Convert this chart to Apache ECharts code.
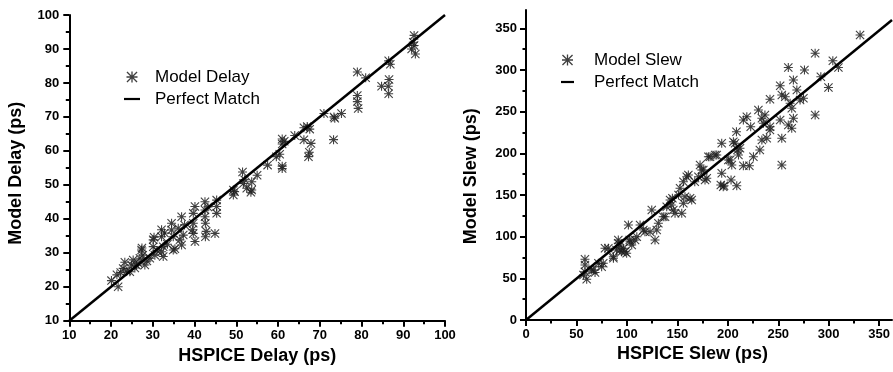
<!DOCTYPE html>
<html>
<head>
<meta charset="utf-8">
<script src="https://cdn.jsdelivr.net/npm/echarts@6/dist/echarts.min.js"></script>
<style>
html,body{margin:0;padding:0;background:#fff;}
#chart{width:893px;height:372px;}
</style>
</head>
<body>
<div id="chart"></div>
<script>
// ---- Left panel: delay ----
const delayHspice = [20.1,21.7,21.4,22.3,22.9,23.3,23.8,24.5,24.9,25.3,25.7,26.1,26.5,26.9,27.3,27.6,27.4,28.1,28.6,29.3,30.1,30.1,30.5,30.3,31.0,32.1,32.1,32.5,32.1,32.5,32.8,33.5,34.5,34.5,34.9,34.9,35.3,36.1,36.5,36.9,36.9,37.3,37.6,39.7,39.7,39.7,40.1,40.1,39.5,42.5,42.5,42.5,42.6,42.6,42.8,43.2,44.9,45.3,45.3,45.3,49.3,49.3,49.6,51.7,51.5,52.5,53.7,53.7,53.5,52.0,55.0,57.5,59.6,60.4,61.0,61.0,61.0,61.0,61.5,64.0,66.2,66.2,67.0,67.6,67.5,67.3,67.9,71.0,73.4,73.6,73.3,75.2,79.0,79.0,79.0,79.2,81.0,84.8,86.5,86.6,86.4,86.5,86.9,92.6,92.4,92.0,92.9,92.6];
const delayModel  = [21.8,20.0,23.5,24.2,25.4,27.2,24.6,24.4,26.4,27.9,25.5,26.3,26.9,28.4,30.8,29.3,31.4,26.4,27.6,28.4,33.8,31.8,29.3,34.6,30.6,36.8,34.7,31.8,30.3,28.9,35.8,32.5,38.7,36.7,34.7,30.8,31.2,37.2,33.8,40.6,32.3,35.2,38.2,41.6,38.7,35.7,33.3,43.6,36.8,45.0,42.6,40.6,38.7,34.7,36.3,43.5,35.7,45.5,43.6,41.6,48.5,47.0,48.0,50.4,53.8,49.0,48.5,50.9,47.8,51.5,52.8,55.8,58.3,59.0,63.5,62.0,55.5,54.8,62.8,64.5,66.8,63.3,67.2,66.4,59.6,58.3,62.2,71.0,70.0,69.6,63.3,71.0,83.2,76.3,74.5,72.5,81.5,79.0,86.5,81.0,79.0,76.8,85.5,94.0,92.0,90.0,88.5,91.0];
const delayMatch = [10, 100];
const delayRange = [10, 100];
const delayStep = 10;

// ---- Right panel: slew ----
const slewHspice = [58,58,56.5,59.7,58,64.6,66.2,67.9,71.2,74.4,76,77.7,81,85.9,86,89,90.8,90.8,92.5,92.5,94,95.8,97.4,99,100.7,102,102.3,104,107.3,109,112.2,115.4,117,122,123.7,126.9,128.6,130.2,135,136.8,138.4,141.7,143,144,144.9,146.6,150,151.5,153.2,154.8,154.8,156.4,158.1,159.7,161.4,163,166,169.6,171.2,172.8,174.4,176.1,177.8,179.4,181,186,187.6,191.6,192.5,192.5,194,194.8,199,200.7,201.7,202.4,204,205.6,207,207.3,208,209,210.5,213.8,213.8,217.2,219.7,221,223.7,228.6,230,232,232,233.5,235,236.8,240,240,240,250,250,251.6,251.6,251.6,255,258,258,259.8,261.4,261.4,263,263,266.4,269.6,272.9,273.9,284.4,284.4,290,297.5,301.8,307.3,328.6];
const slewModel  = [73,66,54,49,58,60,60,57,68,64,68,86,86,76,74,84,96,92,90,84,82,86,82,80,114,96,94,90,96,100,114,108,106,106,132,96,108,116,124,124,136,144,138,146,132,128,150,158,128,140,166,148,172,174,146,144,166,172,186,180,180,168,170,196,196,198,198,162,212,176,160,161,192,192,168,186,214,212,226,161,204,198,206,240,185,244,185,232,196,252,204,242,216,236,246,218,232,228,265,281,240,270,218,186,268,303,234,260,254,230,288,242,276,264,266,300,246,320,292,279,311,303,342];
const slewMatch = [0, 360];
const slewXRange = [0, 360];
const slewYRange = [0, 372];
const slewTickRange = [0, 350];
const slewStep = 50;

const STAR = 'path://M4.4 0 L5.6 0 L5.6 10 L4.4 10 Z M0 4.4 L10 4.4 L10 5.6 L0 5.6 Z M0 0.85 L0.85 0 L10 9.15 L9.15 10 Z M9.15 0 L10 0.85 L0.85 10 L0 9.15 Z';
const FONT = "'Liberation Sans', Arial, sans-serif";

function zip(a, b) { return a.map((v, i) => [v, b[i]]); }

const labelStyle = (margin) => ({
  color: '#000', fontFamily: FONT, fontWeight: 'bold', fontSize: 13, margin: margin
});
const titleStyle = (pad) => ({
  color: '#000', fontFamily: FONT, fontWeight: 'bold', fontSize: 18, padding: pad
});

// axis with ticks, minor ticks, labels and name (line optional)
function fullAxis(grid, range, step, showLine, name, nameGap, pad, margin) {
  return {
    type: 'value', gridIndex: grid, min: range[0], max: range[1], interval: step,
    axisLine: { show: showLine, lineStyle: { color: '#000', width: 2 } },
    axisTick: { show: true, length: 6, lineStyle: { color: '#000', width: 2 } },
    minorTick: { show: true, splitNumber: 2, length: 3.5, lineStyle: { color: '#000', width: 2 } },
    axisLabel: labelStyle(margin),
    splitLine: { show: false },
    name: name, nameLocation: 'middle', nameGap: nameGap,
    nameTextStyle: titleStyle(pad)
  };
}
// axis showing only the line (right panel data axes)
function lineAxis(grid, range) {
  return {
    type: 'value', gridIndex: grid, min: range[0], max: range[1],
    axisLine: { show: true, lineStyle: { color: '#000', width: 2 } },
    axisTick: { show: false },
    axisLabel: { show: false },
    splitLine: { show: false }
  };
}

const option = {
  backgroundColor: '#fff',
  animation: false,
  grid: [
    { left: 69.3, top: 15, width: 375.7, height: 305.7 },
    { left: 526, top: 10, width: 366, height: 310 },
    { left: 526, top: 28.3, width: 355.7, height: 291.7 }
  ],
  xAxis: [
    fullAxis(0, delayRange, delayStep, true, 'HSPICE Delay (ps)', 25, [0, 0, 0, 0], 8),
    lineAxis(1, slewXRange),
    fullAxis(2, slewTickRange, slewStep, false, 'HSPICE Slew (ps)', 20, [0, 20, 0, 0], 7.5)
  ],
  yAxis: [
    fullAxis(0, delayRange, delayStep, true, 'Model Delay (ps)', 44, [0, 11, 0, 0], 10),
    lineAxis(1, slewYRange),
    fullAxis(2, slewTickRange, slewStep, false, 'Model Slew (ps)', 46, [0, 4, 0, 0], 9)
  ],
  legend: [
    {
      orient: 'vertical', left: 124, top: 66, padding: 0, itemGap: 0,
      itemWidth: 16, itemHeight: 11,
      data: [
        { name: 'Model Delay' },
        { name: 'Perfect Match', icon: 'path://M0 0 L16 0 L16 2.2 L0 2.2 Z' }
      ],
      selectedMode: false,
      textStyle: { color: '#000', fontFamily: FONT, fontSize: 17, lineHeight: 22, padding: [0, 0, 0, 10] }
    },
    {
      orient: 'vertical', left: 561, top: 49, padding: 0, itemGap: 0,
      itemWidth: 13, itemHeight: 11,
      data: [
        { name: 'Model Slew' },
        { name: 'Perfect Match', icon: 'path://M0 0 L13 0 L13 2.2 L0 2.2 Z' }
      ],
      selectedMode: false,
      textStyle: { color: '#000', fontFamily: FONT, fontSize: 17, lineHeight: 22, padding: [0, 0, 0, 15] }
    }
  ],
  series: [
    {
      name: 'Model Delay', type: 'scatter', xAxisIndex: 0, yAxisIndex: 0,
      symbol: STAR, symbolSize: 9,
      itemStyle: { color: '#1e1e1e', opacity: 0.85 },
      data: zip(delayHspice, delayModel)
    },
    {
      name: 'Perfect Match', type: 'line', xAxisIndex: 0, yAxisIndex: 0,
      symbol: 'none', lineStyle: { color: '#000', width: 2.5 }, itemStyle: { color: '#000' },
      data: zip(delayMatch, delayMatch), z: 5
    },
    {
      name: 'Model Slew', type: 'scatter', xAxisIndex: 1, yAxisIndex: 1,
      symbol: STAR, symbolSize: 9,
      itemStyle: { color: '#1e1e1e', opacity: 0.85 },
      data: zip(slewHspice, slewModel)
    },
    {
      name: 'Perfect Match', type: 'line', xAxisIndex: 1, yAxisIndex: 1,
      symbol: 'none', lineStyle: { color: '#000', width: 2.5 }, itemStyle: { color: '#000' },
      data: zip(slewMatch, slewMatch), z: 5
    }
  ]
};

const chart = echarts.init(document.getElementById('chart'), null, { renderer: 'canvas' });
chart.setOption(option);
</script>
</body>
</html>
